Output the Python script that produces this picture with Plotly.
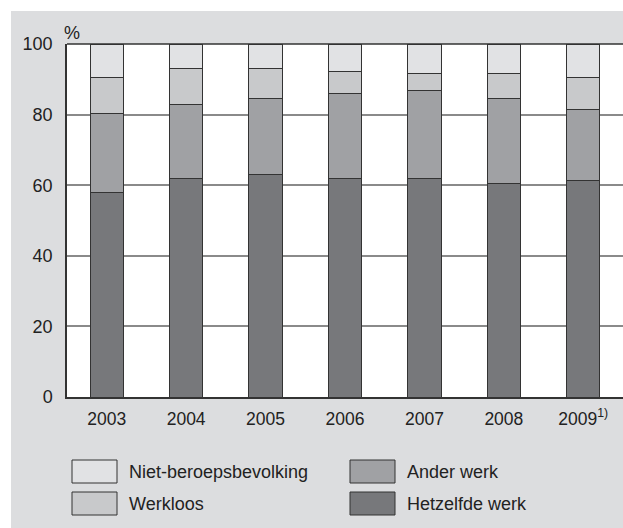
import plotly.graph_objects as go

years = ['2003', '2004', '2005', '2006', '2007', '2008', '2009<sup>1)</sup>']
hetzelfde_werk = [58.0, 61.8, 63.1, 61.8, 61.8, 60.5, 61.2]
ander_werk = [22.2, 21.0, 21.6, 24.2, 24.9, 24.1, 20.3]
werkloos = [10.3, 10.2, 8.3, 6.3, 5.0, 7.1, 9.0]
niet_beroeps = [9.5, 7.0, 7.0, 7.7, 8.3, 8.3, 9.5]

series = [
    ('Hetzelfde werk', hetzelfde_werk, '#77787b'),
    ('Ander werk', ander_werk, '#a0a1a4'),
    ('Werkloos', werkloos, '#c8c9cb'),
    ('Niet-beroepsbevolking', niet_beroeps, '#e1e2e4'),
]

W, H = 623, 528
L, R, T, B = 67, 0, 44, 131
pw, ph = W - L - R, H - T - B

# helpers: convert window pixel positions to paper coords
def px_x(p):
    return (p - L) / pw

def px_y(p):
    return (H - B - p) / ph

fig = go.Figure()

for name, vals, col in series:
    fig.add_trace(go.Bar(
        x=years,
        y=vals,
        name=name,
        marker=dict(color=col, line=dict(color='#333333', width=1)),
        width=0.42,
        showlegend=False
    ))

font = dict(family='Liberation Sans, Arial, sans-serif', size=18, color='#222222')

# white margin strips around the grey panel
fig.add_shape(type='rect', xref='paper', yref='paper', x0=px_x(0), x1=px_x(640),
              y0=px_y(11), y1=px_y(0), fillcolor='white', line_width=0, layer='below')
fig.add_shape(type='rect', xref='paper', yref='paper', x0=px_x(0), x1=px_x(11),
              y0=px_y(540), y1=px_y(0), fillcolor='white', line_width=0, layer='below')

# legend drawn by hand, with large swatches like the original
legend_items = [
    ('Niet-beroepsbevolking', '#e1e2e4', 72, 460),
    ('Werkloos', '#c8c9cb', 72, 492),
    ('Ander werk', '#a0a1a4', 350, 460),
    ('Hetzelfde werk', '#77787b', 350, 492),
]
for label, col, lx, ly in legend_items:
    fig.add_shape(type='rect', xref='paper', yref='paper',
                  x0=px_x(lx), x1=px_x(lx + 45), y0=px_y(ly + 23), y1=px_y(ly),
                  fillcolor=col, line=dict(color='#333333', width=1))
    fig.add_annotation(x=px_x(lx + 55), y=px_y(ly + 11.5), xref='paper', yref='paper',
                       text=label, showarrow=False, xanchor='left', yanchor='middle', font=font)

fig.add_annotation(x=px_x(72), y=px_y(33), xref='paper', yref='paper', text='%',
                   showarrow=False, xanchor='center', yanchor='middle', font=font)

fig.update_layout(
    barmode='stack',
    width=W, height=H,
    margin=dict(l=L, r=R, t=T, b=B, pad=0),
    paper_bgcolor='#dcdddf',
    plot_bgcolor='white',
    font=font,
    xaxis=dict(showgrid=False, ticks='', showline=True, linecolor='#333333', linewidth=1.5,
               range=[-0.5, 6.5], ticklabelstandoff=5, tickfont=dict(size=17.5)),
    yaxis=dict(range=[0, 100], tickvals=[0, 20, 40, 60, 80, 100], showgrid=True,
               gridcolor='#8a8a8a', gridwidth=1.5, zeroline=False, ticks='',
               showline=True, linecolor='#333333', linewidth=1.5, ticklabelstandoff=9),
)
# top border of the plot
fig.add_shape(type='line', xref='paper', yref='paper', x0=0, x1=1, y0=1, y1=1,
              line=dict(color='#333333', width=1.5))

# drop the default page margin and scrollbars so the figure fills the window
page_fix = ("document.documentElement.style.overflow='hidden';"
            "document.body.style.margin='0';document.body.style.overflow='hidden';")
fig.write_html('out.html', post_script=page_fix, config={'displayModeBar': False})
